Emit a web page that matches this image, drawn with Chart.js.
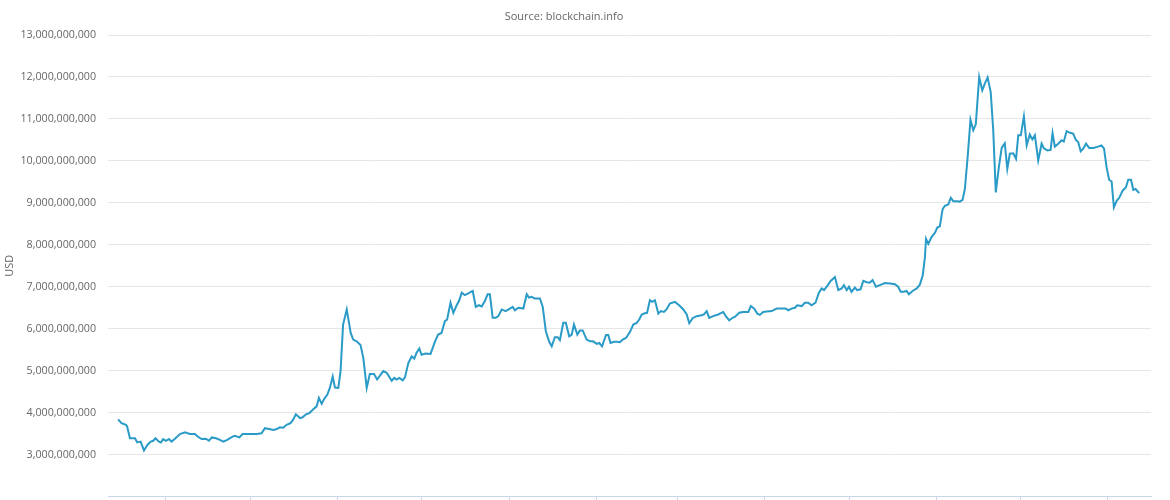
<!DOCTYPE html>
<html>
<head>
<meta charset="utf-8">
<script src="https://cdn.jsdelivr.net/npm/chart.js@4/dist/chart.umd.min.js"></script>
<style>
  html, body { margin: 0; padding: 0; background: #fff; overflow: hidden; }
  #wrap { position: relative; width: 1170px; height: 500px; overflow: hidden; }
  #source {
    position: absolute; top: 8px; left: 0; width: 1128px;
    text-align: center; font: 11px "Open Sans", sans-serif; color: #666;
  }
</style>
</head>
<body>
<div id="wrap">
  <canvas id="capChart" width="1170" height="515"></canvas>
  <div id="source">Source: blockchain.info</div>
</div>
<script>
// Day 0 of the series (days are counted from this date)
const startDate = '2015-09-01';

// Days since startDate
const dayOffsets = [
  -17.0, -15.8, -14.2, -13.8, -12.8, -11.0, -10.2, -9.0, -7.8, -6.6,
  -5.4, -4.5, -3.7, -2.5, -1.8, -1.0, 0, 1.1, 2.0, 3.2,
  5.0, 6.8, 8.5, 10.3, 11.3, 12.7, 14.2, 15.3, 16.3, 17.8,
  19.2, 20.4, 21.8, 23.7, 24.5, 26.1, 27.3, 28.7, 30.5, 32.3,
  34.0, 35.2, 36.7, 38.2, 39.4, 40.5, 41.7, 42.9, 44.3, 45.3,
  46.2, 47.7, 48.6, 49.8, 51.0, 52.4, 53.6, 54.4, 55.4, 56.3,
  57.4, 58.3, 59.3, 60.1, 61.3, 62.1, 63.0, 64.3, 65.7, 66.6,
  67.8, 69.2, 70.2, 71.4, 72.5, 74.0, 75.1, 77.3, 78.5, 80.3,
  81.2, 82.0, 83.0, 84.2, 85.0, 86.2, 87.4, 88.3, 89.1, 90.1,
  90.9, 92.3, 94.1, 95.7, 96.8, 98.0, 99.2, 100.0, 101.2, 102.2,
  103.4, 104.2, 105.2, 106.3, 107.5, 108.4, 109.1, 110.2, 111.3, 112.3,
  113.4, 114.4, 115.2, 116.2, 117.3, 118.2, 119.4, 120.8, 122.3, 123.3,
  124.1, 125.3, 127.1, 128.3, 129.1, 130.0, 131.2, 133.0, 134.0, 135.1,
  136.3, 137.2, 138.3, 139.3, 140.1, 141.3, 142.2, 143.4, 144.3, 145.1,
  146.3, 147.2, 148.2, 149.6, 150.8, 151.9, 153.2, 154.1, 155.1, 156.5,
  157.3, 158.1, 159.3, 160.5, 161.4, 162.4, 163.6, 165.0, 166.2, 167.4,
  168.3, 169.2, 170.3, 171.1, 172.1, 172.9, 173.9, 175.1, 176.0, 177.1,
  178.0, 179.2, 181.0, 182.5, 184.0, 185.2, 186.1, 187.3, 188.7, 190.5,
  191.3, 192.3, 193.2, 194.6, 196.4, 198.2, 199.1, 200.3, 201.5, 202.3,
  203.9, 205.3, 207.1, 208.0, 209.2, 210.3, 211.2, 212.4, 213.6, 215.4,
  217.2, 218.9, 220.4, 221.3, 222.5, 223.7, 224.5, 226.1, 227.2, 228.4,
  229.6, 231.0, 232.2, 233.2, 234.0, 235.2, 236.4, 237.9, 239.1, 240.3,
  241.1, 242.1, 242.9, 243.8, 245.0, 245.8, 247.0, 248.0, 249.2, 250.3,
  251.3, 252.5, 253.9, 255.7, 257.5, 259.2, 260.4, 261.3, 262.4, 263.4,
  264.2, 265.5, 267.0, 268.1, 269.1, 269.9, 270.3, 271.1, 272.3, 273.5,
  274.3, 275.2, 276.2, 277.0, 278.2, 279.1, 280.0, 281.2, 282.3, 283.3,
  284.1, 285.1, 286.1, 287.1, 288.0, 289.2, 290.3, 291.2, 292.2, 293.3,
  294.2, 295.1, 296.2, 297.2, 298.3, 299.2, 300.1, 301.3, 302.3, 303.1,
  304.0, 305.1, 306.1, 307.2, 308.1, 309.0, 310.2, 311.4, 312.2, 313.5,
  314.6, 315.3, 316.1, 317.3, 318.5, 319.3, 320.3, 321.5, 322.6, 323.6,
  324.4, 325.3, 326.2, 327.2, 328.3, 329.8, 331.5, 332.7, 333.6, 334.5,
  335.4, 336.3, 337.1, 338.1, 339.0, 340.2, 341.4, 342.2, 343.2, 344.0,
  344.8, 346.1
];

// Market capitalization, billions of USD
const capBillions = [
  3.84, 3.75, 3.71, 3.67, 3.39, 3.39, 3.29, 3.31, 3.10, 3.23,
  3.31, 3.33, 3.39, 3.31, 3.29, 3.37, 3.33, 3.37, 3.31, 3.38,
  3.49, 3.53, 3.49, 3.49, 3.43, 3.37, 3.38, 3.33, 3.41, 3.39,
  3.35, 3.31, 3.35, 3.43, 3.45, 3.41, 3.49, 3.49, 3.49, 3.49,
  3.51, 3.63, 3.61, 3.59, 3.61, 3.65, 3.64, 3.71, 3.75, 3.84,
  3.96, 3.87, 3.89, 3.96, 3.99, 4.08, 4.15, 4.35, 4.21, 4.33,
  4.43, 4.59, 4.86, 4.60, 4.59, 4.99, 6.10, 6.46, 5.90, 5.74,
  5.70, 5.61, 5.30, 4.59, 4.92, 4.92, 4.79, 4.99, 4.95, 4.76,
  4.83, 4.79, 4.83, 4.77, 4.84, 5.18, 5.34, 5.29, 5.42, 5.53,
  5.38, 5.41, 5.40, 5.70, 5.86, 5.90, 6.18, 6.22, 6.62, 6.38,
  6.56, 6.66, 6.86, 6.80, 6.84, 6.88, 6.90, 6.52, 6.56, 6.53,
  6.66, 6.82, 6.82, 6.26, 6.26, 6.30, 6.46, 6.42, 6.48, 6.52,
  6.44, 6.50, 6.48, 6.82, 6.74, 6.76, 6.72, 6.72, 6.52, 5.94,
  5.69, 5.58, 5.80, 5.80, 5.73, 6.14, 6.14, 5.82, 5.86, 6.10,
  5.86, 5.96, 5.96, 5.74, 5.70, 5.70, 5.64, 5.66, 5.58, 5.85,
  5.85, 5.66, 5.69, 5.69, 5.68, 5.74, 5.78, 5.92, 6.10, 6.14,
  6.22, 6.34, 6.37, 6.38, 6.68, 6.64, 6.68, 6.36, 6.42, 6.40,
  6.46, 6.60, 6.64, 6.56, 6.46, 6.34, 6.13, 6.25, 6.30, 6.32,
  6.34, 6.42, 6.26, 6.30, 6.34, 6.40, 6.30, 6.20, 6.26, 6.28,
  6.38, 6.40, 6.40, 6.54, 6.48, 6.36, 6.33, 6.40, 6.41, 6.42,
  6.48, 6.48, 6.48, 6.44, 6.48, 6.50, 6.56, 6.54, 6.62, 6.62,
  6.56, 6.62, 6.86, 6.96, 6.92, 7.02, 7.14, 7.23, 6.92, 6.96,
  7.04, 6.92, 7.00, 6.88, 6.98, 6.92, 6.94, 7.14, 7.11, 7.10,
  7.16, 7.00, 7.04, 7.09, 7.08, 7.06, 7.00, 6.88, 6.88, 6.90,
  6.82, 6.90, 6.96, 7.05, 7.26, 7.70, 8.14, 8.02, 8.19, 8.29,
  8.41, 8.44, 8.85, 8.93, 8.96, 9.12, 9.04, 9.04, 9.03, 9.07,
  9.33, 10.09, 10.98, 10.73, 10.87, 12.00, 11.68, 11.84, 11.99, 11.64,
  10.73, 9.25, 9.85, 10.31, 10.42, 9.81, 10.17, 10.18, 10.05, 10.61,
  10.61, 11.06, 10.37, 10.63, 10.51, 10.61, 10.01, 10.41, 10.30, 10.25,
  10.26, 10.66, 10.34, 10.41, 10.49, 10.46, 10.71, 10.67, 10.65, 10.50,
  10.45, 10.23, 10.29, 10.41, 10.31, 10.31, 10.34, 10.37, 10.29, 9.85,
  9.55, 9.51, 8.89, 9.05, 9.12, 9.29, 9.37, 9.55, 9.55, 9.31,
  9.33, 9.23
];

// Month boundaries that carry an x tick
const monthStarts = [
  '2015-09-01', '2015-10-01', '2015-11-01', '2015-12-01', '2016-01-01', '2016-02-01',
  '2016-03-01', '2016-04-01', '2016-05-01', '2016-06-01', '2016-07-01', '2016-08-01'
];

const yMin = 2e9, yMax = 13e9, yStep = 1e9;
// visible x range, in days from startDate
const xMin = -20.6, xMax = 350.3;

function daysFromStart(iso) {
  return (Date.parse(iso + 'T00:00:00Z') - Date.parse(startDate + 'T00:00:00Z')) / 86400000;
}

const points = dayOffsets.map((d, i) => ({ x: d, y: capBillions[i] * 1e9 }));

const ctx = document.getElementById('capChart').getContext('2d');
const capChart = new Chart(ctx, {
    type: 'line',
    data: {
        datasets: [{
            label: 'Market Capitalization',
            data: points,
            borderColor: '#2a9bc7',
            borderWidth: 2,
            pointRadius: 0,
            tension: 0,
            fill: false,
        }]
    },
    options: {
        responsive: false,
        animation: false,
        layout: { padding: { top: 35, right: 19, left: 0, bottom: 0 } },
        plugins: {
            legend: { display: false },
            tooltip: { enabled: false },
        },
        scales: {
            x: {
                type: 'linear',
                min: xMin,
                max: xMax,
                afterBuildTicks: (scale) => {
                    scale.ticks = monthStarts.map(m => ({ value: daysFromStart(m) }));
                },
                ticks: { display: false },
                grid: {
                    drawOnChartArea: false,
                    drawTicks: true,
                    tickLength: 5,
                    color: '#ccd6eb',
                },
                border: { color: '#ccd6eb', width: 1 },
            },
            y: {
                min: yMin,
                max: yMax,
                afterFit: (scale) => { scale.width = 108; },
                ticks: {
                    stepSize: yStep,
                    padding: 12,
                    color: '#666',
                    font: { family: 'Open Sans', size: 10.7 },
                    callback: (v) => v === yMin ? '' : Number(v).toLocaleString('en-US'),
                },
                grid: { color: '#e6e6e6', drawTicks: false },
                border: { display: false },
                title: {
                    display: true,
                    text: 'USD',
                    color: '#666',
                    font: { family: 'Open Sans', size: 11 },
                    padding: { top: 3, bottom: 0 },
                },
            }
        }
    }
});
</script>
</body>
</html>
